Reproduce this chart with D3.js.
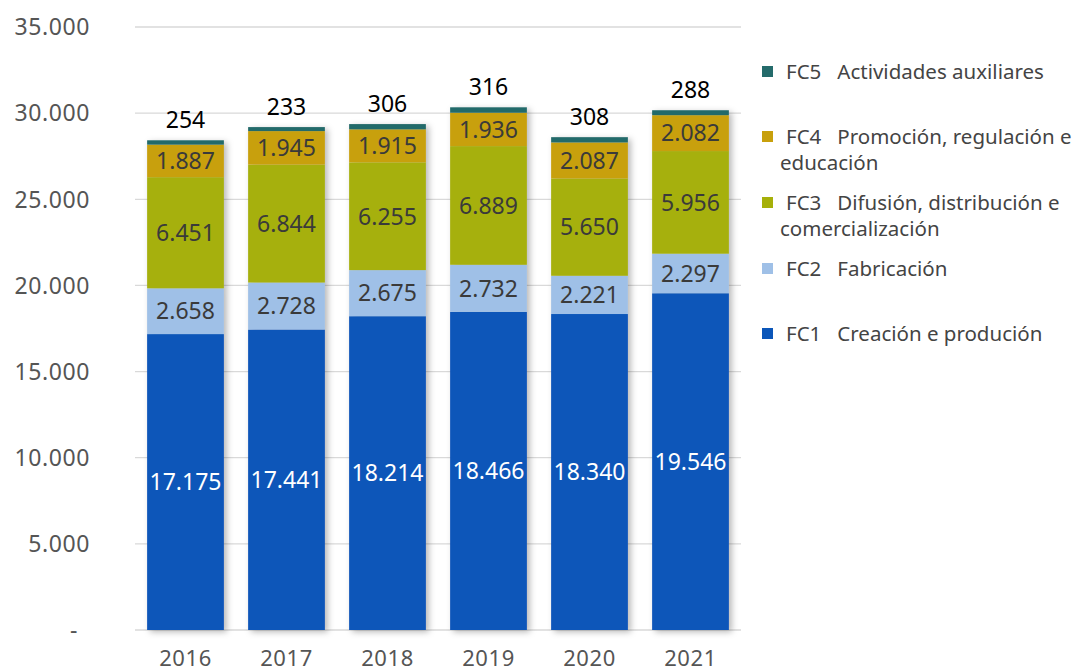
<!DOCTYPE html>
<html>
<head>
<meta charset="utf-8">
<script src="https://cdn.jsdelivr.net/npm/d3@7"></script>
<style>
  body { margin: 0; background: #fff; }
  svg { font-family: "Noto Sans", sans-serif; }
</style>
</head>
<body>
<div id="chart"></div>
<script>
// data
var years = ["2016", "2017", "2018", "2019", "2020", "2021"];
var fc1 = [17175, 17441, 18214, 18466, 18340, 19546];
var fc2 = [2658, 2728, 2675, 2732, 2221, 2297];
var fc3 = [6451, 6844, 6255, 6889, 5650, 5956];
var fc4 = [1887, 1945, 1915, 1936, 2087, 2082];
var fc5 = [254, 233, 306, 316, 308, 288];
var seriesKeys = ["fc1", "fc2", "fc3", "fc4", "fc5"];
var seriesNames = {
  fc1: ["FC1   Creación e produción"],
  fc2: ["FC2   Fabricación"],
  fc3: ["FC3   Difusión, distribución e", "comercialización"],
  fc4: ["FC4   Promoción, regulación e", "educación"],
  fc5: ["FC5   Actividades auxiliares"]
};
var yTicks = [0, 5000, 10000, 15000, 20000, 25000, 30000, 35000];

var colors = { fc1: "#0b56b9", fc2: "#9fc0e7", fc3: "#a6b009", fc4: "#c8a00c", fc5: "#246b6b" };
var labelColors = { fc1: "#ffffff", fc2: "#3a3a3a", fc3: "#3a3a3a", fc4: "#3a3a3a" };

var table = years.map(function(y, i) {
  return { year: y, fc1: fc1[i], fc2: fc2[i], fc3: fc3[i], fc4: fc4[i], fc5: fc5[i] };
});

var width = 1080, height = 671;
var svg = d3.select("#chart").append("svg")
  .attr("width", width).attr("height", height);

var defs = svg.append("defs");
var shadow = defs.append("filter").attr("id", "shadow")
  .attr("x", "-20%").attr("y", "-5%").attr("width", "140%").attr("height", "110%");
shadow.append("feDropShadow").attr("dx", 3).attr("dy", 2)
  .attr("stdDeviation", 3).attr("flood-color", "#000").attr("flood-opacity", 0.28);

var x = d3.scaleBand().domain(years).range([135, 741])
  .paddingInner(0.24).paddingOuter(0.12);
var y = d3.scaleLinear().domain([0, 35000]).range([630, 27]);

var fmt = function(v) { return d3.format(",")(v).replace(/,/g, "."); };

// grid
svg.append("g").selectAll("line").data(yTicks).join("line")
  .attr("x1", 135).attr("x2", 741)
  .attr("y1", function(d) { return y(d); }).attr("y2", function(d) { return y(d); })
  .attr("stroke", "#d9d9d9").attr("stroke-width", 1.3);

// y labels
svg.append("g").selectAll("text").data(yTicks).join("text")
  .attr("x", function(d) { return d === 0 ? 78 : 90; })
  .attr("y", function(d) { return y(d); })
  .attr("dy", "0.36em")
  .attr("text-anchor", "end")
  .attr("fill", "#555")
  .style("font-size", "23px")
  .style("letter-spacing", "0.6px")
  .text(function(d) { return d === 0 ? "-" : fmt(d); });

// x labels
svg.append("g").selectAll("text").data(years).join("text")
  .attr("x", function(d) { return x(d) + x.bandwidth() / 2; })
  .attr("y", 666)
  .attr("text-anchor", "middle")
  .attr("fill", "#555")
  .style("font-size", "22px")
  .style("letter-spacing", "0.6px")
  .text(function(d) { return d; });

var stack = d3.stack().keys(seriesKeys)(table);

var bars = svg.append("g").attr("filter", "url(#shadow)");
stack.forEach(function(layer) {
  bars.append("g").selectAll("rect").data(layer).join("rect")
    .attr("x", function(d) { return x(d.data.year); })
    .attr("width", x.bandwidth())
    .attr("y", function(d) { return y(d[1]); })
    .attr("height", function(d) { return y(d[0]) - y(d[1]); })
    .attr("fill", colors[layer.key]);
});

// segment labels
stack.forEach(function(layer) {
  var key = layer.key;
  svg.append("g").selectAll("text").data(layer).join("text")
    .attr("x", function(d) { return x(d.data.year) + x.bandwidth() / 2; })
    .attr("y", function(d) {
      if (key === "fc5") return y(d[1]) - 12;
      return y((d[0] + d[1]) / 2);
    })
    .attr("dy", key === "fc5" ? "0" : "0.36em")
    .attr("text-anchor", "middle")
    .attr("fill", key === "fc5" ? "#000" : labelColors[key])
    .style("font-size", "23px")
    .text(function(d) { return fmt(d.data[key]); });
});

// legend
var legendY = { fc5: 72, fc4: 137, fc3: 203, fc2: 269, fc1: 334 };
var legend = svg.append("g");
seriesKeys.slice().reverse().forEach(function(k) {
  var g = legend.append("g").attr("transform", "translate(0," + legendY[k] + ")");
  g.append("rect").attr("x", 762).attr("y", -6).attr("width", 11).attr("height", 11)
    .attr("fill", colors[k]);
  seriesNames[k].forEach(function(line, j) {
    g.append("text")
      .attr("x", j === 0 ? 786 : 780)
      .attr("y", j * 26)
      .attr("dy", "0.36em")
      .attr("fill", "#444")
      .style("font-size", "20.5px")
      .style("white-space", "pre")
      .text(line);
  });
});
</script>
</body>
</html>
